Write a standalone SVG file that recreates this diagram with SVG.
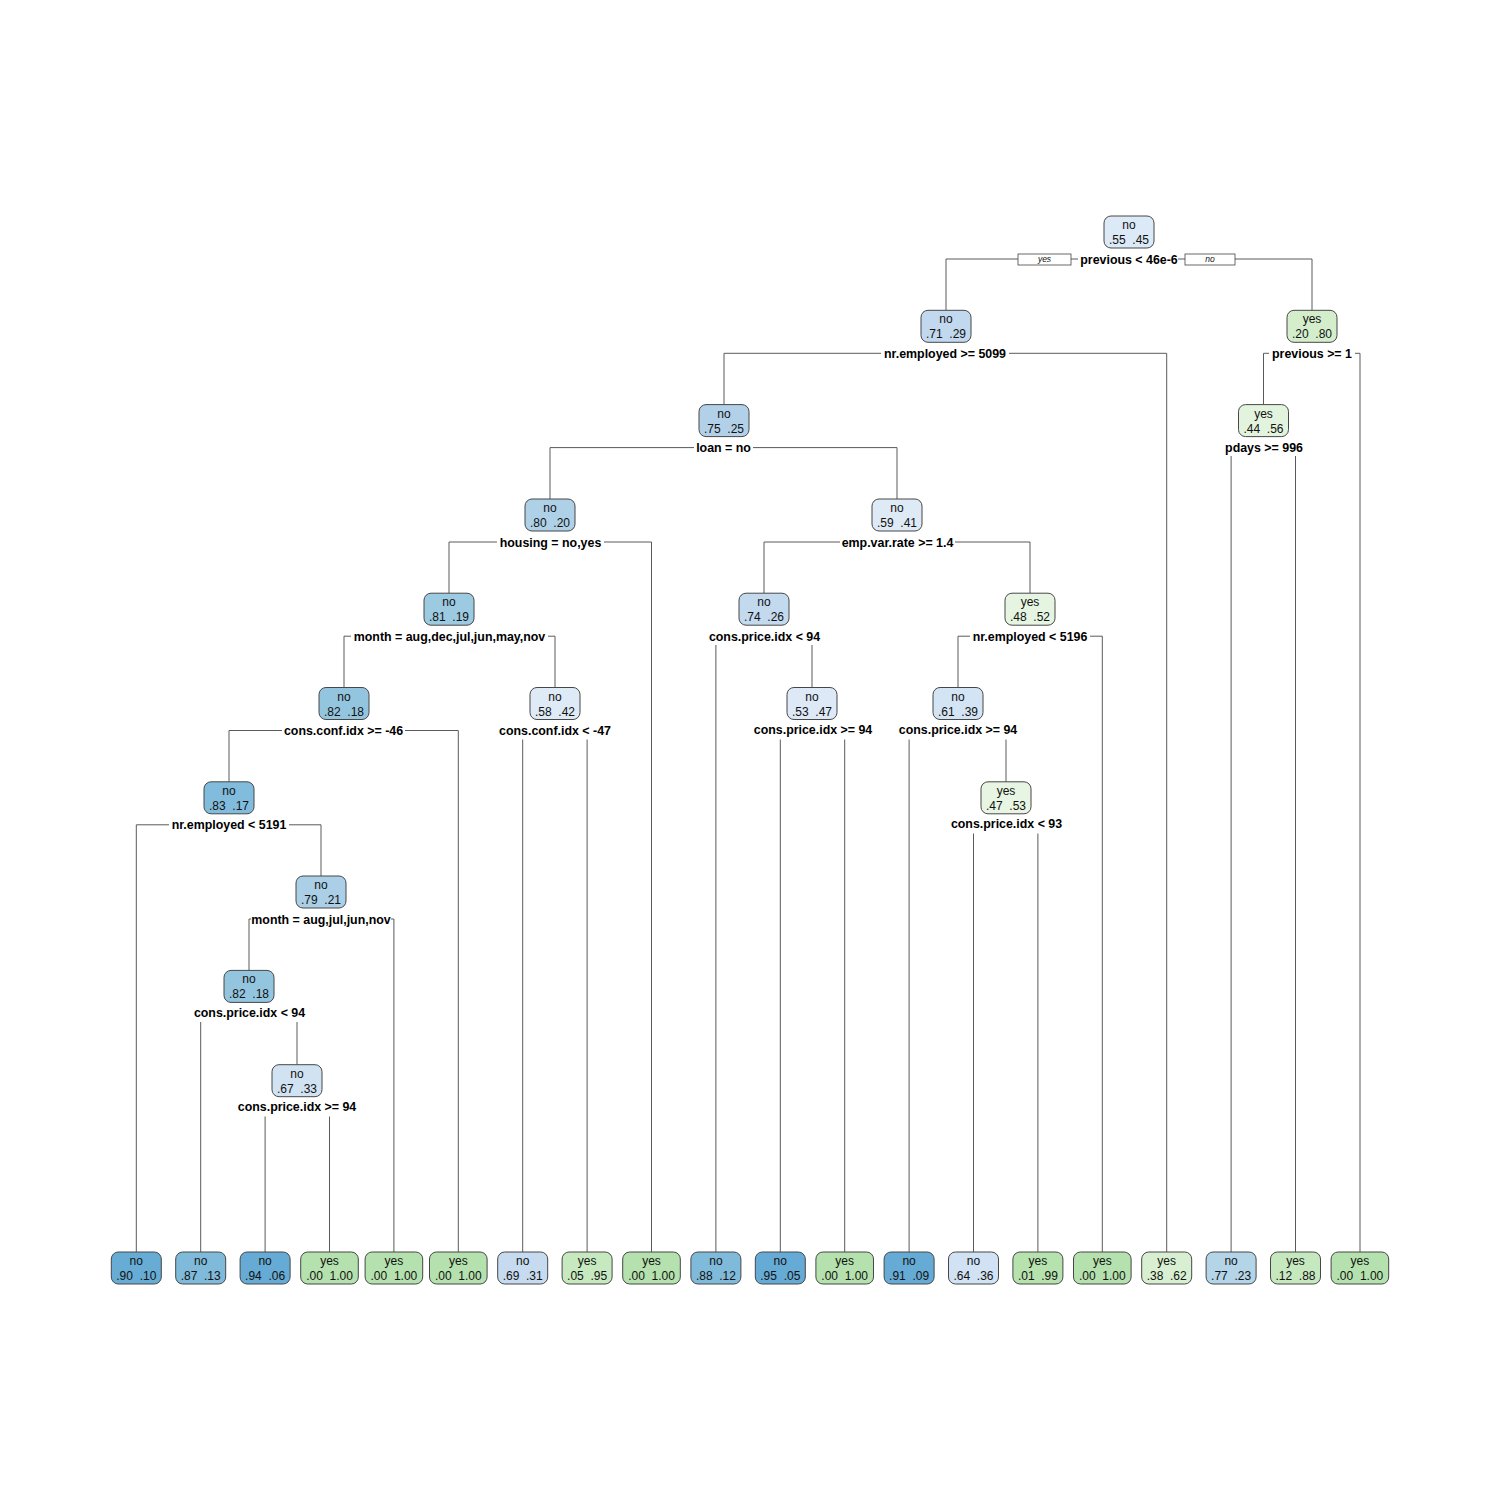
<svg xmlns="http://www.w3.org/2000/svg" width="1500" height="1500" viewBox="0 0 1500 1500" xml:space="preserve">
<style>
.bx{stroke:#474747;stroke-width:1}
.t{font-family:"Liberation Sans",Arial,sans-serif;font-size:12px;fill:#111;text-anchor:middle;white-space:pre}
.s{font-family:"Liberation Sans",Arial,sans-serif;font-size:12.4px;font-weight:bold;fill:#000;text-anchor:middle}
.e{fill:none;stroke:#5a5a5a;stroke-width:1}
.lb{fill:#fff;stroke:#444;stroke-width:0.8}
.lt{font-family:"Liberation Sans",Arial,sans-serif;font-size:8.5px;font-style:italic;fill:#111;text-anchor:middle}
</style>
<rect width="1500" height="1500" fill="#fff"/>
<g id="connectors">
<path class="e" d="M946,310 V259 H1018 M1071,259 H1078 M1178,259 H1185 M1235,259 H1312 V310"/>
<path class="e" d="M724,404.6 V353.3 H881 M1009,353.3 H1166.7 V1252"/>
<path class="e" d="M1263.5,404.6 V353.3 H1269 M1355,353.3 H1360 V1252"/>
<path class="e" d="M550,499 V447.6 H694 M753,447.6 H897 V499"/>
<path class="e" d="M1231.1,456 V1252 M1295.5,456 V1252"/>
<path class="e" d="M449,593.2 V542 H497 M604,542 H651.5 V1252"/>
<path class="e" d="M764,593.2 V542 H840 M955,542 H1030 V593.2"/>
<path class="e" d="M344,687.5 V636.2 H351 M548,636.2 H555 V687.5"/>
<path class="e" d="M715.9,645 V1252 M812,645 V687.5"/>
<path class="e" d="M958,687.5 V636.2 H970 M1090,636.2 H1102.3 V1252"/>
<path class="e" d="M229,781.8 V730.5 H282 M405,730.5 H458.3 V1252"/>
<path class="e" d="M522.7,739.5 V1252 M587.1,739.5 V1252"/>
<path class="e" d="M780.3,739.5 V1252 M844.7,739.5 V1252"/>
<path class="e" d="M909.1,739.5 V1252 M1006,739.5 V781.8"/>
<path class="e" d="M136.3,1252 V824.8 H169 M289,824.8 H321 V876"/>
<path class="e" d="M973.5,833.5 V1252 M1037.9,833.5 V1252"/>
<path class="e" d="M249,970.4 V919 H251 M391,919 H393.9 V1252"/>
<path class="e" d="M200.7,1022 V1252 M297,1022 V1064.7"/>
<path class="e" d="M265.1,1116.5 V1252 M329.5,1116.5 V1252"/>
</g>
<g id="root-branch-labels">
<rect class="lb" x="1018" y="254" width="53" height="11"/>
<text class="lt" x="1044.5" y="262">yes</text>
<rect class="lb" x="1185" y="254" width="50" height="11"/>
<text class="lt" x="1210" y="262">no</text>
</g>
<g id="n1"><rect class="bx" x="1104" y="216" width="50" height="32" rx="7" fill="#dce9f6"/><text class="t" x="1129" y="229">no</text><text class="t" x="1129" y="244">.55  .45</text><text class="s" x="1129" y="263.5">previous &lt; 46e-6</text></g>
<g id="n2"><rect class="bx" x="921" y="310.3" width="50" height="32" rx="7" fill="#c2d8ee"/><text class="t" x="946" y="323.3">no</text><text class="t" x="946" y="338.3">.71  .29</text><text class="s" x="945" y="357.8">nr.employed &gt;= 5099</text></g>
<g id="n3"><rect class="bx" x="1287" y="310.3" width="50" height="32" rx="7" fill="#d4eecc"/><text class="t" x="1312" y="323.3">yes</text><text class="t" x="1312" y="338.3">.20  .80</text><text class="s" x="1312" y="357.8">previous &gt;= 1</text></g>
<g id="n4"><rect class="bx" x="699" y="404.6" width="50" height="32" rx="7" fill="#b2d1e8"/><text class="t" x="724" y="417.6">no</text><text class="t" x="724" y="432.6">.75  .25</text><text class="s" x="723.5" y="452.1">loan = no</text></g>
<g id="n5"><rect class="bx" x="1238.5" y="404.6" width="50" height="32" rx="7" fill="#e3f4de"/><text class="t" x="1263.5" y="417.6">yes</text><text class="t" x="1263.5" y="432.6">.44  .56</text><text class="s" x="1264" y="452.1">pdays &gt;= 996</text></g>
<g id="n6"><rect class="bx" x="525" y="499" width="50" height="32" rx="7" fill="#afd1e7"/><text class="t" x="550" y="512">no</text><text class="t" x="550" y="527">.80  .20</text><text class="s" x="550.5" y="546.5">housing = no,yes</text></g>
<g id="n7"><rect class="bx" x="872" y="499" width="50" height="32" rx="7" fill="#deeaf6"/><text class="t" x="897" y="512">no</text><text class="t" x="897" y="527">.59  .41</text><text class="s" x="897.5" y="546.5">emp.var.rate &gt;= 1.4</text></g>
<g id="n8"><rect class="bx" x="424" y="593.2" width="50" height="32" rx="7" fill="#9ccae1"/><text class="t" x="449" y="606.2">no</text><text class="t" x="449" y="621.2">.81  .19</text><text class="s" x="449.5" y="640.7">month = aug,dec,jul,jun,may,nov</text></g>
<g id="n9"><rect class="bx" x="739" y="593.2" width="50" height="32" rx="7" fill="#c3d9ee"/><text class="t" x="764" y="606.2">no</text><text class="t" x="764" y="621.2">.74  .26</text><text class="s" x="764.5" y="640.7">cons.price.idx &lt; 94</text></g>
<g id="n10"><rect class="bx" x="1005" y="593.2" width="50" height="32" rx="7" fill="#e6f5e1"/><text class="t" x="1030" y="606.2">yes</text><text class="t" x="1030" y="621.2">.48  .52</text><text class="s" x="1030" y="640.7">nr.employed &lt; 5196</text></g>
<g id="n11"><rect class="bx" x="319" y="687.5" width="50" height="32" rx="7" fill="#94c5df"/><text class="t" x="344" y="700.5">no</text><text class="t" x="344" y="715.5">.82  .18</text><text class="s" x="343.5" y="735">cons.conf.idx &gt;= -46</text></g>
<g id="n12"><rect class="bx" x="530" y="687.5" width="50" height="32" rx="7" fill="#deeaf6"/><text class="t" x="555" y="700.5">no</text><text class="t" x="555" y="715.5">.58  .42</text><text class="s" x="555" y="735">cons.conf.idx &lt; -47</text></g>
<g id="n13"><rect class="bx" x="787" y="687.5" width="50" height="32" rx="7" fill="#dde9f6"/><text class="t" x="812" y="700.5">no</text><text class="t" x="812" y="715.5">.53  .47</text><text class="s" x="813" y="734">cons.price.idx &gt;= 94</text></g>
<g id="n14"><rect class="bx" x="933" y="687.5" width="50" height="32" rx="7" fill="#d3e4f4"/><text class="t" x="958" y="700.5">no</text><text class="t" x="958" y="715.5">.61  .39</text><text class="s" x="958" y="734">cons.price.idx &gt;= 94</text></g>
<g id="n15"><rect class="bx" x="204" y="781.8" width="50" height="32" rx="7" fill="#81bcdc"/><text class="t" x="229" y="794.8">no</text><text class="t" x="229" y="809.8">.83  .17</text><text class="s" x="229" y="829.3">nr.employed &lt; 5191</text></g>
<g id="n16"><rect class="bx" x="981" y="781.8" width="50" height="32" rx="7" fill="#e7f5e2"/><text class="t" x="1006" y="794.8">yes</text><text class="t" x="1006" y="809.8">.47  .53</text><text class="s" x="1006.5" y="828.3">cons.price.idx &lt; 93</text></g>
<g id="n17"><rect class="bx" x="296" y="876" width="50" height="32" rx="7" fill="#aacfe6"/><text class="t" x="321" y="889">no</text><text class="t" x="321" y="904">.79  .21</text><text class="s" x="321" y="923.5">month = aug,jul,jun,nov</text></g>
<g id="n18"><rect class="bx" x="224" y="970.4" width="50" height="32" rx="7" fill="#94c5df"/><text class="t" x="249" y="983.4">no</text><text class="t" x="249" y="998.4">.82  .18</text><text class="s" x="249.5" y="1016.9">cons.price.idx &lt; 94</text></g>
<g id="n19"><rect class="bx" x="272" y="1064.7" width="50" height="32" rx="7" fill="#d1e3f3"/><text class="t" x="297" y="1077.7">no</text><text class="t" x="297" y="1092.7">.67  .33</text><text class="s" x="297" y="1111.2">cons.price.idx &gt;= 94</text></g>
<g id="leaf1"><rect class="bx" x="111.3" y="1252" width="50" height="32" rx="7" fill="#66acd5"/><text class="t" x="136.3" y="1265">no</text><text class="t" x="136.3" y="1280">.90  .10</text></g>
<g id="leaf2"><rect class="bx" x="175.7" y="1252" width="50" height="32" rx="7" fill="#7fbadb"/><text class="t" x="200.7" y="1265">no</text><text class="t" x="200.7" y="1280">.87  .13</text></g>
<g id="leaf3"><rect class="bx" x="240.1" y="1252" width="50" height="32" rx="7" fill="#66abd5"/><text class="t" x="265.1" y="1265">no</text><text class="t" x="265.1" y="1280">.94  .06</text></g>
<g id="leaf4"><rect class="bx" x="300.7" y="1252" width="57.6" height="32" rx="7" fill="#b4e1ad"/><text class="t" x="329.5" y="1265">yes</text><text class="t" x="329.5" y="1280">.00  1.00</text></g>
<g id="leaf5"><rect class="bx" x="365.1" y="1252" width="57.6" height="32" rx="7" fill="#b4e1ad"/><text class="t" x="393.9" y="1265">yes</text><text class="t" x="393.9" y="1280">.00  1.00</text></g>
<g id="leaf6"><rect class="bx" x="429.5" y="1252" width="57.6" height="32" rx="7" fill="#b4e1ad"/><text class="t" x="458.3" y="1265">yes</text><text class="t" x="458.3" y="1280">.00  1.00</text></g>
<g id="leaf7"><rect class="bx" x="497.7" y="1252" width="50" height="32" rx="7" fill="#c6dbef"/><text class="t" x="522.7" y="1265">no</text><text class="t" x="522.7" y="1280">.69  .31</text></g>
<g id="leaf8"><rect class="bx" x="562.1" y="1252" width="50" height="32" rx="7" fill="#c7e9c0"/><text class="t" x="587.1" y="1265">yes</text><text class="t" x="587.1" y="1280">.05  .95</text></g>
<g id="leaf9"><rect class="bx" x="622.7" y="1252" width="57.6" height="32" rx="7" fill="#b4e1ad"/><text class="t" x="651.5" y="1265">yes</text><text class="t" x="651.5" y="1280">.00  1.00</text></g>
<g id="leaf10"><rect class="bx" x="690.9" y="1252" width="50" height="32" rx="7" fill="#7fbadb"/><text class="t" x="715.9" y="1265">no</text><text class="t" x="715.9" y="1280">.88  .12</text></g>
<g id="leaf11"><rect class="bx" x="755.3" y="1252" width="50" height="32" rx="7" fill="#66abd5"/><text class="t" x="780.3" y="1265">no</text><text class="t" x="780.3" y="1280">.95  .05</text></g>
<g id="leaf12"><rect class="bx" x="815.9" y="1252" width="57.6" height="32" rx="7" fill="#b4e1ad"/><text class="t" x="844.7" y="1265">yes</text><text class="t" x="844.7" y="1280">.00  1.00</text></g>
<g id="leaf13"><rect class="bx" x="884.1" y="1252" width="50" height="32" rx="7" fill="#66abd5"/><text class="t" x="909.1" y="1265">no</text><text class="t" x="909.1" y="1280">.91  .09</text></g>
<g id="leaf14"><rect class="bx" x="948.5" y="1252" width="50" height="32" rx="7" fill="#d0e2f3"/><text class="t" x="973.5" y="1265">no</text><text class="t" x="973.5" y="1280">.64  .36</text></g>
<g id="leaf15"><rect class="bx" x="1012.9" y="1252" width="50" height="32" rx="7" fill="#b6e2ae"/><text class="t" x="1037.9" y="1265">yes</text><text class="t" x="1037.9" y="1280">.01  .99</text></g>
<g id="leaf16"><rect class="bx" x="1073.5" y="1252" width="57.6" height="32" rx="7" fill="#b4e1ad"/><text class="t" x="1102.3" y="1265">yes</text><text class="t" x="1102.3" y="1280">.00  1.00</text></g>
<g id="leaf17"><rect class="bx" x="1141.7" y="1252" width="50" height="32" rx="7" fill="#d8efd2"/><text class="t" x="1166.7" y="1265">yes</text><text class="t" x="1166.7" y="1280">.38  .62</text></g>
<g id="leaf18"><rect class="bx" x="1206.1" y="1252" width="50" height="32" rx="7" fill="#b4d4e8"/><text class="t" x="1231.1" y="1265">no</text><text class="t" x="1231.1" y="1280">.77  .23</text></g>
<g id="leaf19"><rect class="bx" x="1270.5" y="1252" width="50" height="32" rx="7" fill="#c6e8bf"/><text class="t" x="1295.5" y="1265">yes</text><text class="t" x="1295.5" y="1280">.12  .88</text></g>
<g id="leaf20"><rect class="bx" x="1331.1" y="1252" width="57.6" height="32" rx="7" fill="#b4e1ad"/><text class="t" x="1359.9" y="1265">yes</text><text class="t" x="1359.9" y="1280">.00  1.00</text></g>
</svg>
